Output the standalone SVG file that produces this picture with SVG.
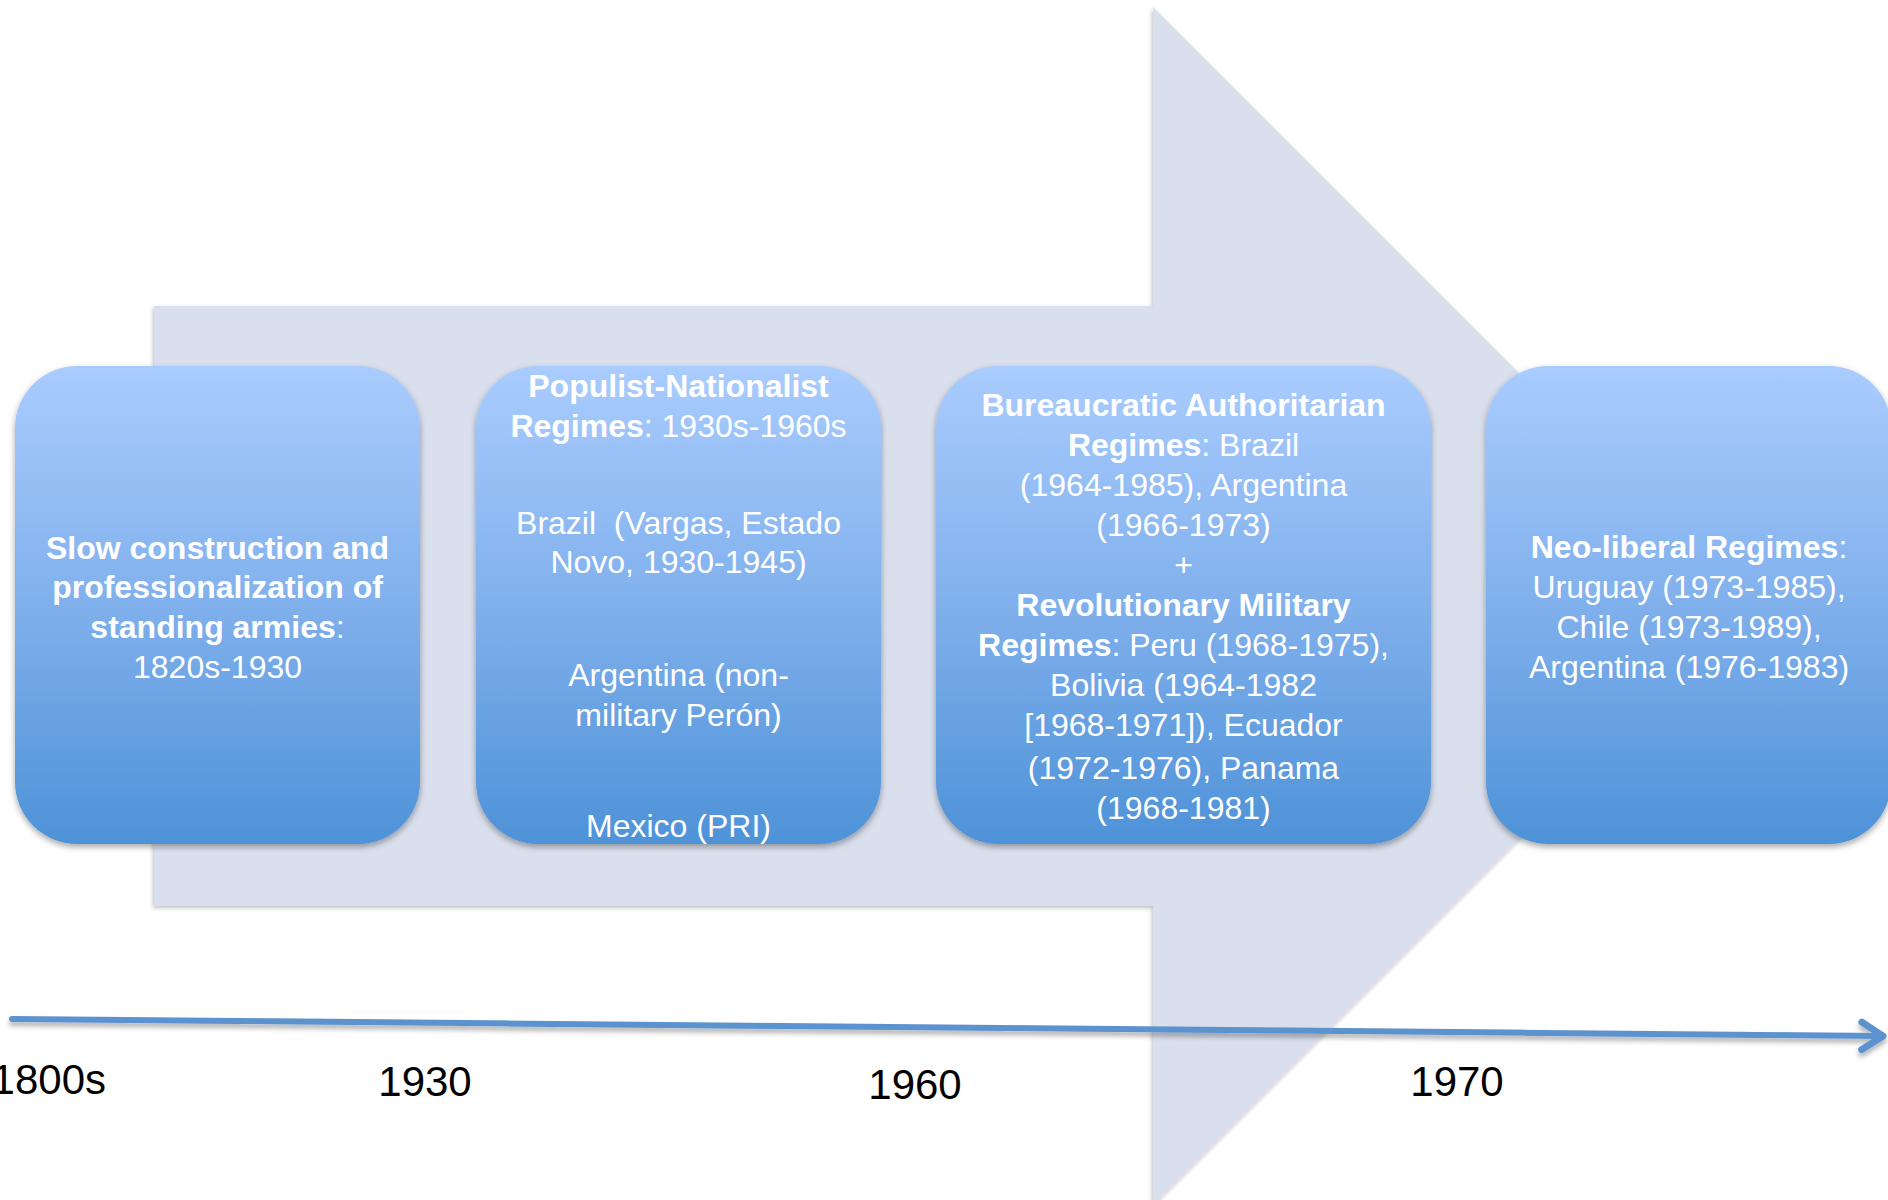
<svg xmlns="http://www.w3.org/2000/svg" width="1888" height="1200" viewBox="0 0 1888 1200">
  <style>
    .box { fill: url(#boxGrad); filter: url(#boxShadow); }
    .bt { font-family: "Liberation Sans", Arial, sans-serif; font-size: 32px; fill: #ffffff; text-anchor: middle; }
    .b { font-weight: bold; }
    .yr { font-family: "Liberation Sans", Arial, sans-serif; font-size: 42px; fill: #000000; }
  </style>
  <defs>
    <linearGradient id="boxGrad" x1="0" y1="0" x2="0" y2="1">
      <stop offset="0" stop-color="#AACCFE"/>
      <stop offset="0.5" stop-color="#80B0EC"/>
      <stop offset="1" stop-color="#4E92D8"/>
    </linearGradient>
    <filter id="boxShadow" x="-10%" y="-10%" width="120%" height="120%">
      <feDropShadow dx="0" dy="3" stdDeviation="3" flood-color="#000000" flood-opacity="0.35"/>
    </filter>
    <filter id="arrowShadow" x="-5%" y="-5%" width="110%" height="110%">
      <feDropShadow dx="-1" dy="2" stdDeviation="2" flood-color="#000000" flood-opacity="0.25"/>
    </filter>
    <filter id="lineShadow" x="-5%" y="-200%" width="110%" height="500%">
      <feDropShadow dx="0" dy="4" stdDeviation="2.5" flood-color="#000000" flood-opacity="0.3"/>
    </filter>
    <marker id="openArrow" markerUnits="userSpaceOnUse" markerWidth="40" markerHeight="40" viewBox="-22 -16 28 32" refX="0" refY="0" orient="auto">
      <path d="M-17,-11 L0,0 L-17,11" fill="none" stroke="#5B92CD" stroke-width="5.5" stroke-linecap="round" stroke-linejoin="round"/>
    </marker>
  </defs>

  <rect x="0" y="0" width="1888" height="1200" fill="#ffffff"/>

  <g id="big-arrow">
    <polygon points="154,306 1153,306 1153,7 1752,606 1153,1205 1153,906 154,906" fill="#D9DFEC" filter="url(#arrowShadow)"/>
  </g>

  <g id="connectors">
    <line x1="12" y1="1019" x2="1883" y2="1036" stroke="#5B92CD" stroke-width="6" stroke-linecap="round" marker-end="url(#openArrow)" filter="url(#lineShadow)"/>
  </g>

  <g id="node-1">
    <rect class="box" x="15" y="366" width="405" height="478" rx="62" ry="62"/>
    <text class="bt" x="217.5" y="559"><tspan class="b">Slow construction and</tspan></text>
    <text class="bt" x="217.5" y="598"><tspan class="b">professionalization of</tspan></text>
    <text class="bt" x="217.5" y="638"><tspan class="b">standing armies</tspan>:</text>
    <text class="bt" x="217.5" y="678">1820s-1930</text>
  </g>

  <g id="node-2">
    <rect class="box" x="476" y="366" width="405" height="478" rx="62" ry="62"/>
    <text class="bt" x="678.5" y="397"><tspan class="b">Populist-Nationalist</tspan></text>
    <text class="bt" x="678.5" y="437"><tspan class="b">Regimes</tspan>: 1930s-1960s</text>
    <text class="bt" x="678.5" y="534" style="white-space:pre">Brazil  (Vargas, Estado</text>
    <text class="bt" x="678.5" y="573">Novo, 1930-1945)</text>
    <text class="bt" x="678.5" y="686">Argentina (non-</text>
    <text class="bt" x="678.5" y="726">military Perón)</text>
    <text class="bt" x="678.5" y="837">Mexico (PRI)</text>
  </g>

  <g id="node-3">
    <rect class="box" x="936" y="366" width="495" height="478" rx="62" ry="62"/>
    <text class="bt" x="1183.5" y="416"><tspan class="b">Bureaucratic Authoritarian</tspan></text>
    <text class="bt" x="1183.5" y="456"><tspan class="b">Regimes</tspan>: Brazil</text>
    <text class="bt" x="1183.5" y="496">(1964-1985), Argentina</text>
    <text class="bt" x="1183.5" y="536">(1966-1973)</text>
    <text class="bt" x="1183.5" y="576">+</text>
    <text class="bt" x="1183.5" y="616"><tspan class="b">Revolutionary Military</tspan></text>
    <text class="bt" x="1183.5" y="656"><tspan class="b">Regimes</tspan>: Peru (1968-1975),</text>
    <text class="bt" x="1183.5" y="696">Bolivia (1964-1982</text>
    <text class="bt" x="1183.5" y="736">[1968-1971]), Ecuador</text>
    <text class="bt" x="1183.5" y="779">(1972-1976), Panama</text>
    <text class="bt" x="1183.5" y="819">(1968-1981)</text>
  </g>

  <g id="node-4">
    <rect class="box" x="1486" y="366" width="405" height="478" rx="62" ry="62"/>
    <text class="bt" x="1689" y="558"><tspan class="b">Neo-liberal Regimes</tspan>:</text>
    <text class="bt" x="1689" y="598">Uruguay (1973-1985),</text>
    <text class="bt" x="1689" y="638">Chile (1973-1989),</text>
    <text class="bt" x="1689" y="678">Argentina (1976-1983)</text>
  </g>

  <g id="year-labels">
    <text class="yr" x="106" y="1094" text-anchor="end">1800s</text>
    <text class="yr" x="425" y="1096" text-anchor="middle">1930</text>
    <text class="yr" x="915" y="1099" text-anchor="middle">1960</text>
    <text class="yr" x="1457" y="1096" text-anchor="middle">1970</text>
  </g>
</svg>
